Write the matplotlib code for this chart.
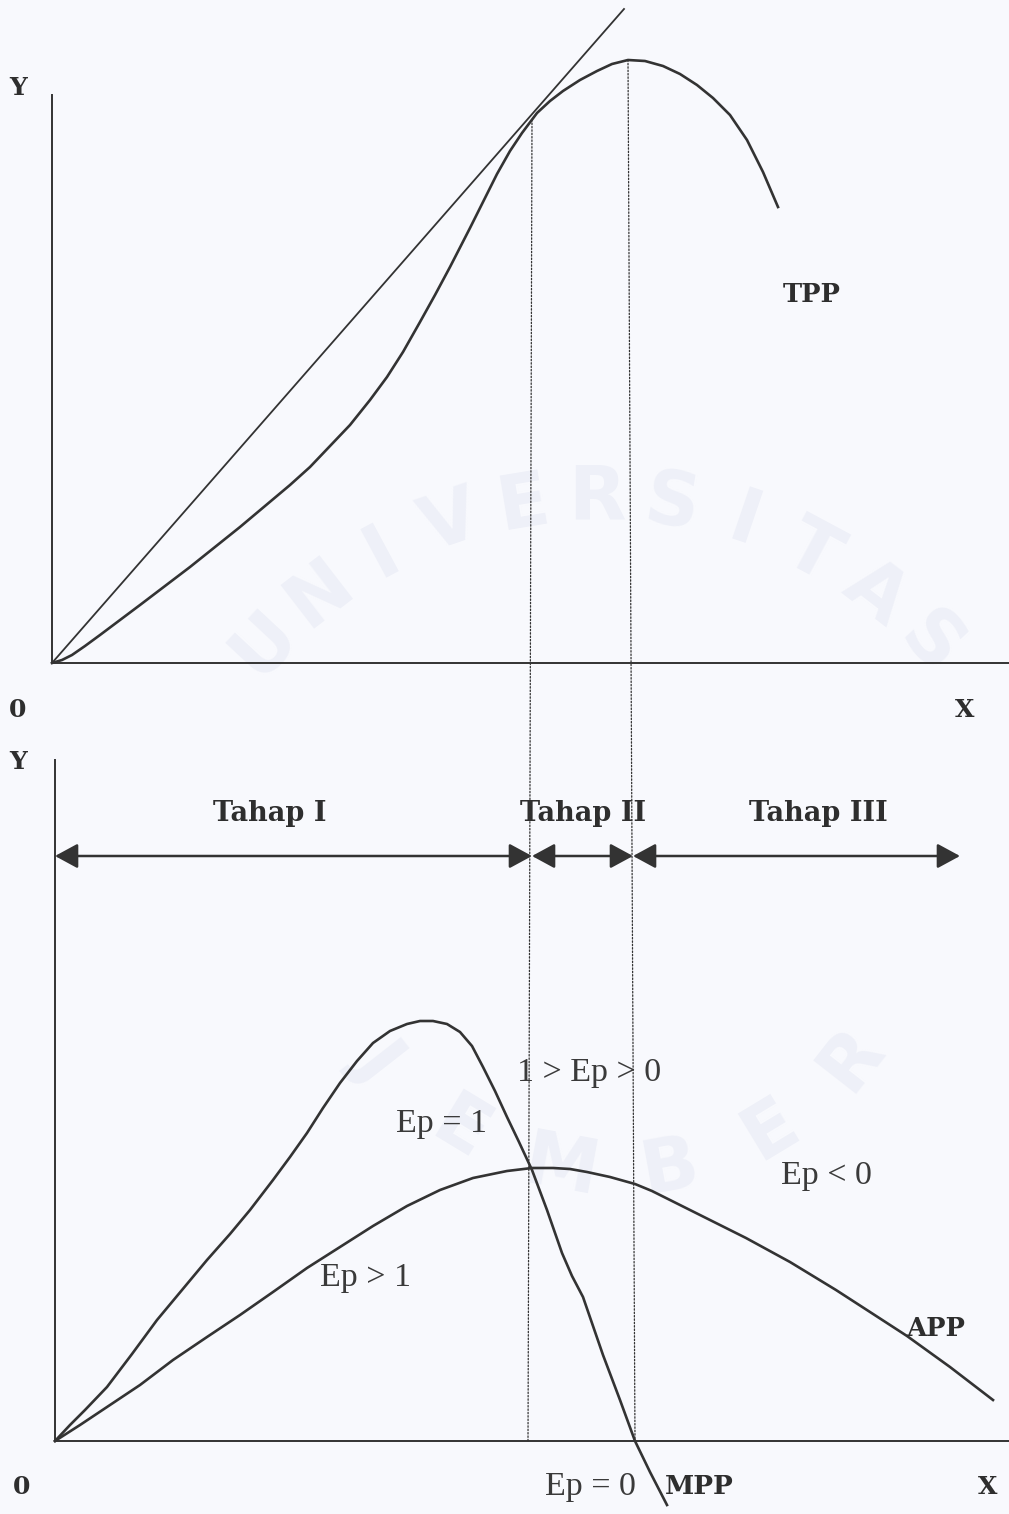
import numpy as np
import matplotlib
matplotlib.use('Agg')
import matplotlib.pyplot as plt
from matplotlib.patches import ConnectionPatch

#--------------------------------------
# Curve points (x = input, y = output), read in screen units
#--------------------------------------
tpp_x = [0, 10, 20, 33, 48, 68, 88, 113, 138, 163, 188, 213, 238, 258, 278,
         298, 318, 335, 351, 368, 383, 398, 418, 433, 445, 458, 470, 485, 498,
         511, 528, 545, 560, 576, 593, 611, 628, 645, 661, 678, 695, 711, 726]
tpp_y = [0, 3, 8, 17, 28, 43, 58, 77, 96, 116, 136, 157, 178, 196, 217,
         238, 263, 286, 311, 341, 368, 396, 435, 465, 489, 512, 530, 550, 562,
         572, 583, 592, 599, 603, 602, 597, 589, 578, 565, 548, 523, 491, 456]

# ray from the origin touching TPP
ray_x = [0, 572]
ray_y = [0, 654]

mpp_x = [0, 15, 30, 52, 77, 102, 127, 152, 175, 195, 218, 235, 252, 268, 285,
         302, 318, 335, 352, 365, 378, 392, 405, 417, 428, 440, 452, 464, 477,
         492, 507, 517, 528, 538, 548, 565, 580, 595, 612]
mpp_y = [0, 16, 31, 54, 87, 121, 151, 181, 207, 231, 261, 284, 308, 333, 358,
         380, 398, 410, 417, 420, 420, 417, 409, 395, 374, 350, 324, 299, 271,
         231, 188, 165, 144, 115, 86, 41, 0, -31, -64]

app_x = [0, 25, 52, 85, 118, 152, 185, 218, 252, 285, 318, 352, 385, 418, 452,
         477, 498, 515, 532, 555, 580, 597, 615, 645, 691, 735, 781, 815, 852,
         895, 938]
app_y = [0, 16, 34, 56, 81, 104, 126, 149, 173, 194, 215, 235, 251, 263, 270,
         273, 273, 272, 269, 264, 257, 250, 241, 226, 203, 179, 151, 129, 105,
         74, 41]

x_ap_max = 480      # APP max / MPP = APP (top panel units)
x_tp_max = 576      # TPP max / MPP = 0
stage_y = 585
stage_edges = [0, 477, 578, 905]
stage_names = ['Tahap I', 'Tahap II', 'Tahap III']
stage_text_x = [215, 528, 763]

ep_labels = ['1 > Ep > 0', 'Ep = 1', 'Ep > 1', 'Ep < 0', 'Ep = 0']
ep_pos = [(534, 368), (387, 317), (310, 163), (771, 265), (535, -46)]

ink = '#333333'
paper = '#f8f9fd'
W, H = 1009, 1514

fig = plt.figure(figsize=(W / 100, H / 100), dpi=100, facecolor=paper)

# faint university watermark behind the diagrams
wm = '#eef0f8'
word1 = 'UNIVERSITAS'
ang1 = np.linspace(137, 43, len(word1))
for ch, a in zip(word1, ang1):
    px = 597 + 455 * np.cos(np.radians(a))
    py = 560 + 455 * np.sin(np.radians(a))
    fig.text(px / W, py / H, ch, fontsize=54, fontweight='bold', color=wm,
             ha='center', va='center', rotation=a - 90, zorder=-5)
word2 = 'JEMBER'
ang2 = np.linspace(218, 322, len(word2))
for ch, a in zip(word2, ang2):
    px = 615 + 300 * np.cos(np.radians(a))
    py = 640 + 300 * np.sin(np.radians(a))
    fig.text(px / W, py / H, ch, fontsize=54, fontweight='bold', color=wm,
             ha='center', va='center', rotation=a - 270, zorder=-5)

bold = dict(family='DejaVu Serif', fontweight='bold', color='#2e2e2e')
thin = dict(family='Liberation Serif', color='#3a3a3a', fontsize=24.5)

#--------------------------------------
# top panel: TPP
#--------------------------------------
ax1 = fig.add_axes([52 / W, (H - 663) / H, (W - 52) / W, 663 / H])
ax1.set_xlim(0, W - 52)
ax1.set_ylim(0, 663)
ax1.patch.set_alpha(0)
for s in ['top', 'right']:
    ax1.spines[s].set_visible(False)
ax1.spines['left'].set_bounds(0, 568)
for s in ['left', 'bottom']:
    ax1.spines[s].set_color(ink)
    ax1.spines[s].set_linewidth(1.4)
ax1.set_xticks([])
ax1.set_yticks([])

ax1.plot(tpp_x, tpp_y, color=ink, lw=1.9, solid_joinstyle='round', clip_on=False)
ax1.plot(ray_x, ray_y, color=ink, lw=1.3, clip_on=False)

ax1.text(-34, 575, 'Y', fontsize=18, ha='center', va='center', **bold)
ax1.text(-34, -47, '0', fontsize=18, ha='center', va='center', **bold)
ax1.text(913, -47, 'X', fontsize=18, ha='center', va='center', **bold)
ax1.text(760, 368, 'TPP', fontsize=18.5, ha='center', va='center', **bold)

#--------------------------------------
# bottom panel: APP and MPP
#--------------------------------------
ax2 = fig.add_axes([55 / W, 0, (W - 55) / W, (H - 680) / H])
ax2.set_xlim(0, W - 55)
ax2.set_ylim(-73, 761)
ax2.patch.set_alpha(0)
for s in ['top', 'right']:
    ax2.spines[s].set_visible(False)
ax2.spines['bottom'].set_position(('data', 0))
ax2.spines['left'].set_bounds(0, 681)
for s in ['left', 'bottom']:
    ax2.spines[s].set_color(ink)
    ax2.spines[s].set_linewidth(1.4)
ax2.set_xticks([])
ax2.set_yticks([])

ax2.plot(mpp_x, mpp_y, color=ink, lw=1.9, solid_joinstyle='round', clip_on=False)
ax2.plot(app_x, app_y, color=ink, lw=1.9, solid_joinstyle='round', clip_on=False)

# stage arrows
for i in range(3):
    ax2.annotate('', xy=(stage_edges[i + 1], stage_y), xytext=(stage_edges[i], stage_y),
                 arrowprops=dict(arrowstyle='<|-|>,head_length=0.7,head_width=0.38',
                                 color=ink, lw=1.8, shrinkA=0, shrinkB=0,
                                 mutation_scale=20))
    ax2.text(stage_text_x[i], 628, stage_names[i], fontsize=19.5,
             ha='center', va='center', **bold)

for lab, (lx, ly) in zip(ep_labels, ep_pos):
    ax2.text(lx, ly, lab, ha='center', va='center', **thin)

ax2.text(-37, 679, 'Y', fontsize=18, ha='center', va='center', **bold)
ax2.text(-33, -46, '0', fontsize=18, ha='center', va='center', **bold)
ax2.text(933, -46, 'X', fontsize=18, ha='center', va='center', **bold)
ax2.text(644, -46, 'MPP', fontsize=19, ha='center', va='center', **bold)
ax2.text(881, 113, 'APP', fontsize=18.5, ha='center', va='center', **bold)

# dotted guides running through both panels
guides = [(x_ap_max, 473), (x_tp_max, 580)]
for xt, xb in guides:
    yt = np.interp(xt, tpp_x, tpp_y)
    cp = ConnectionPatch(xyA=(xt, yt), coordsA=ax1.transData,
                         xyB=(xb, 0), coordsB=ax2.transData,
                         color=ink, lw=0.9, linestyle=(0, (1.2, 1.5)))
    fig.add_artist(cp)

fig.savefig('out.png', dpi=100, facecolor=paper)
